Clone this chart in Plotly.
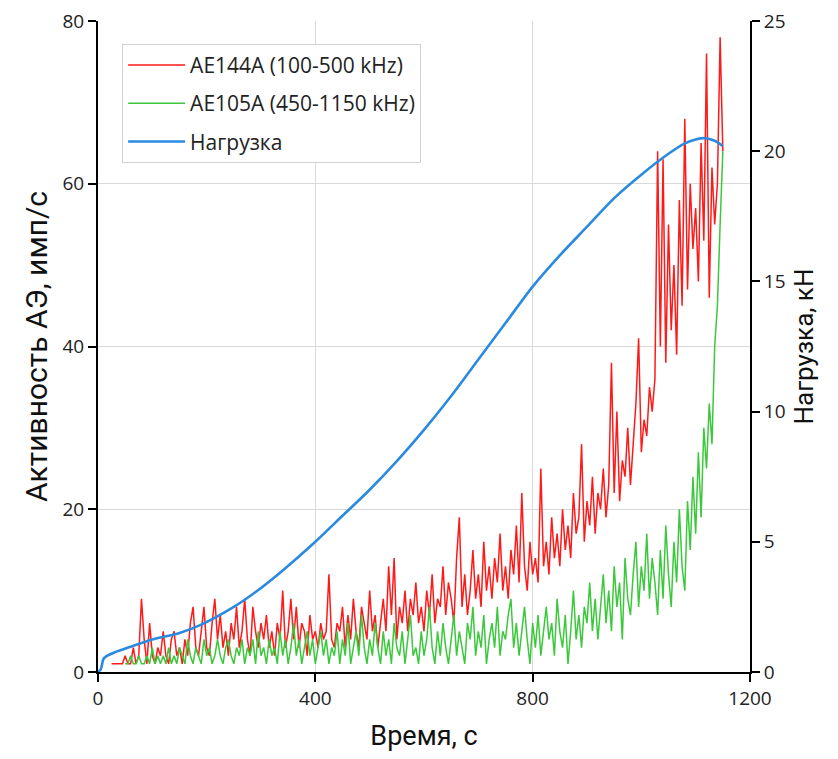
import plotly.graph_objects as go

# time grid (s), 5-s steps from 25 to 1150
t_start, t_step, n_pts = 25, 5, 226
time_s = [t_start + i * t_step for i in range(n_pts)]

# AE144A (100-500 kHz) activity, pulses/s
red_ae144 = [
    1, 1, 1, 1, 1, 2, 1, 1, 3, 1, 2, 9, 4, 1, 6, 2, 1, 3, 2, 5,
    2, 1, 4, 5, 2, 3, 1, 4, 2, 6, 8, 3, 2, 5, 8, 3, 2, 6, 9, 4,
    7, 3, 5, 2, 6, 4, 8, 3, 5, 9, 4, 2, 8, 5, 3, 6, 4, 7, 3, 5,
    2, 6, 4, 10, 3, 5, 9, 4, 8, 3, 6, 5, 2, 7, 4, 5, 3, 6, 4, 5,
    12, 4, 3, 6, 5, 8, 3, 7, 4, 9, 5, 3, 8, 6, 4, 10, 5, 7, 3, 6,
    9, 5, 13, 7, 14, 4, 8, 6, 10, 5, 9, 7, 11, 6, 8, 5, 10, 7, 12, 6,
    9, 8, 13, 7, 11, 9, 6, 14, 19, 8, 12, 7, 10, 15, 9, 12, 8, 16, 10, 13,
    9, 14, 11, 17, 10, 13, 9, 15, 12, 18, 11, 22, 13, 10, 16, 12, 14, 11, 25, 13,
    16, 12, 19, 14, 17, 13, 20, 15, 18, 14, 22, 17, 19, 28, 16, 21, 18, 24, 17, 22,
    20, 25, 19, 23, 38, 22, 32, 21, 26, 24, 30, 23, 28, 33, 41, 27, 31, 29, 35, 32,
    36, 64, 40, 63, 38, 55, 42, 50, 39, 58, 45, 68, 47, 60, 52, 57, 48, 65, 53, 76,
    46, 62, 55, 60, 78, 64,
]

# AE105A (450-1150 kHz) activity, pulses/s
green_ae105 = [
    None, None, None, None, None, 1, 1, 2, 1, 1, 2, 1, 1, 2, 1, 3, 1, 2, 1, 2,
    1, 3, 1, 2, 1, 3, 2, 1, 4, 2, 1, 3, 2, 1, 4, 2, 3, 1, 2, 4,
    2, 1, 3, 4, 2, 1, 3, 2, 4, 1, 3, 2, 4, 1, 5, 2, 3, 1, 4, 2,
    3, 1, 5, 2, 4, 1, 3, 6, 2, 4, 1, 3, 5, 2, 4, 1, 3, 5, 2, 4,
    1, 3, 2, 5, 1, 4, 2, 6, 1, 3, 5, 2, 7, 3, 1, 4, 2, 6, 3, 1,
    5, 2, 4, 1, 6, 3, 2, 5, 1, 4, 7, 2, 3, 1, 5, 2, 4, 8, 3, 1,
    5, 2, 6, 3, 1, 4, 7, 2, 5, 3, 1, 6, 4, 8, 2, 5, 3, 7, 1, 4,
    6, 3, 8, 2, 5, 4, 7, 9, 3, 6, 2, 5, 8, 4, 1, 6, 3, 7, 2, 5,
    8, 4, 6, 2, 9, 5, 3, 7, 1, 5, 10, 4, 7, 3, 8, 6, 11, 5, 9, 4,
    8, 12, 6, 10, 5, 13, 8, 11, 4, 14, 9, 7, 12, 16, 8, 13, 10, 17, 9, 14,
    11, 7, 15, 9, 18, 12, 8, 16, 11, 20, 13, 10, 21, 15, 24, 17, 27, 19, 30, 25,
    33, 28, 40, 45, 55, 64,
]

# load curve (kN) vs time (s)
load_time = [0, 5, 10, 15, 30, 64, 100, 150, 188, 250, 292, 340, 400, 450, 500,
             550, 600, 650, 700, 750, 800, 850, 900, 950, 1000, 1050, 1080,
             1100, 1117, 1135, 1150]
load_kn = [0, 0.1, 0.5, 0.6, 0.75, 1.0, 1.25, 1.5, 1.8, 2.5, 3.1, 3.9, 5.0, 6.0,
           7.0, 8.1, 9.3, 10.6, 12.0, 13.4, 14.8, 16.0, 17.1, 18.2, 19.1, 19.9,
           20.3, 20.45, 20.5, 20.4, 20.2]

series_names = ["AE144A (100-500 kHz)", "AE105A (450-1150 kHz)", "Нагрузка"]

fig = go.Figure()
fig.add_trace(go.Scatter(x=time_s, y=red_ae144, mode="lines", name=series_names[0],
                         legendgroup="a",
                         line=dict(color="#ff1a1a", width=1.5)))
fig.add_trace(go.Scatter(x=time_s, y=green_ae105, mode="lines", name=series_names[1],
                         legendgroup="b",
                         line=dict(color="#3cc83c", width=1.5), connectgaps=False))
fig.add_trace(go.Scatter(x=load_time, y=load_kn, mode="lines", name=series_names[2],
                         legendgroup="c", yaxis="y2",
                         line=dict(color="#2a8ae0", width=2.6, shape="spline", smoothing=0.8)))

tick_font = dict(family="Open Sans, sans-serif", size=19, color="#222")

common = dict(showline=True, linecolor="black", linewidth=2,
              ticks="outside", ticklen=8, tickwidth=1.5, tickcolor="black",
              zeroline=False, tickfont=tick_font, automargin=False)

fig.update_layout(
    width=838, height=759,
    margin=dict(l=98, r=88, t=21, b=87),
    plot_bgcolor="white", paper_bgcolor="white",
    showlegend=True,
    legend=dict(x=0.037, y=0.965, xanchor="left", yanchor="top",
                bgcolor="white", bordercolor="#d0d0d0", borderwidth=1,
                font=dict(family="Open Sans, sans-serif", size=21, color="#222"),
                itemwidth=57, tracegroupgap=8,
                entrywidth=253, entrywidthmode="pixels"),
    xaxis=dict(range=[0, 1200], tickvals=[0, 400, 800, 1200],
               showgrid=True, gridcolor="#d9d9d9", gridwidth=1,
               title=dict(text="Время, с", standoff=16,
                          font=dict(family="Roboto, sans-serif", size=27, color="#111")),
               **common),
    yaxis=dict(range=[0, 80], tickvals=[0, 20, 40, 60, 80],
               showgrid=True, gridcolor="#d9d9d9", gridwidth=1,
               title=dict(text="Активность АЭ, имп/с", standoff=6,
                          font=dict(family="Roboto, sans-serif", size=30, color="#111")),
               **common),
    yaxis2=dict(range=[0, 25], tickvals=[0, 5, 10, 15, 20, 25], overlaying="y", side="right",
                showgrid=False,
                title=dict(text="Нагрузка, кН", standoff=10,
                           font=dict(family="Roboto, sans-serif", size=26, color="#111")),
                **common),
)

fig.write_html("out.html", config={"displayModeBar": False},
               post_script="document.body.style.margin='0px';")
